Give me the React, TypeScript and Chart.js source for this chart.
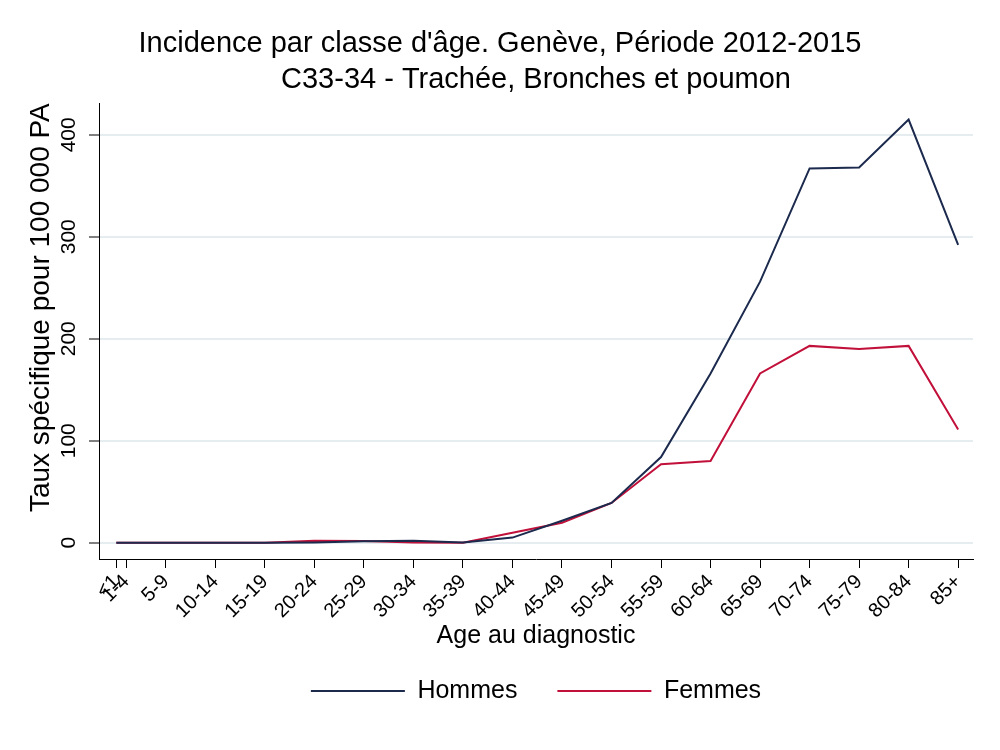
import React, { useEffect, useRef } from "react";
import { Chart, registerables } from "chart.js";

Chart.register(...registerables);

const FONT = "'Liberation Sans', Arial, sans-serif";

const TITLE = "Incidence par classe d'âge. Genève, Période 2012-2015";
const SUBTITLE = "C33-34 - Trachée, Bronches et poumon";
const X_TITLE = "Age au diagnostic";
const Y_TITLE = "Taux spécifique pour 100 000 PA";

// age class start values (position on the x axis) and their labels
const AGE_X = [0, 1, 5, 10, 15, 20, 25, 30, 35, 40, 45, 50, 55, 60, 65, 70, 75, 80, 85];
const AGE_LABELS = [
  "<1", "1-4", "5-9", "10-14", "15-19", "20-24", "25-29", "30-34", "35-39",
  "40-44", "45-49", "50-54", "55-59", "60-64", "65-69", "70-74", "75-79", "80-84", "85+",
];

const HOMMES = [0, 0, 0, 0, 0, 0.3, 1.5, 1.8, 0.3, 5, 21.5, 39, 84, 166, 256, 367, 368, 415, 292];
const FEMMES = [0, 0, 0, 0, 0, 1.8, 1.6, 0.3, 0, 9.8, 19.5, 39, 77, 80, 166, 193, 190, 193, 111];

const Y_TICKS = [0, 100, 200, 300, 400];

const SERIES = [
  { label: "Hommes", values: HOMMES, color: "#1c2a4e" },
  { label: "Femmes", values: FEMMES, color: "#c1103a" },
];

export default function App() {
  const ref = useRef<HTMLCanvasElement | null>(null);

  useEffect(() => {
    document.body.style.margin = "0";
    const canvas = ref.current;
    if (!canvas) return;
    Chart.defaults.font.family = FONT;
    Chart.defaults.color = "#000";

    const chart = new Chart(canvas, {
      type: "line",
      data: {
        datasets: SERIES.map((s) => ({
          label: s.label,
          data: AGE_X.map((x, i) => ({ x, y: s.values[i] })),
          borderColor: s.color,
          backgroundColor: s.color,
          borderWidth: 2,
          pointRadius: 0,
          tension: 0,
          fill: false,
        })),
      },
      options: {
        animation: false,
        responsive: false,
        devicePixelRatio: 1,
        layout: { padding: { left: 27, right: 27, top: 0, bottom: 36.5 } },
        plugins: {
          title: {
            display: true,
            text: TITLE,
            color: "#000",
            font: { size: 29, weight: "normal", family: FONT },
            padding: { top: 27, bottom: 0 },
          },
          subtitle: {
            display: true,
            text: SUBTITLE,
            fullSize: false,
            color: "#000",
            font: { size: 29, weight: "normal", family: FONT },
            padding: { top: 1, bottom: 5.6 },
          },
          legend: {
            display: true,
            position: "bottom",
            fullSize: false,
            labels: {
              usePointStyle: true,
              pointStyle: "line",
              pointStyleWidth: 94,
              color: "#000",
              font: { size: 25, family: FONT },
              padding: 40,
            },
          },
          tooltip: { enabled: false },
        },
        scales: {
          x: {
            type: "linear",
            min: -1.75,
            max: 86.5,
            afterBuildTicks: (s: any) => {
              s.ticks = AGE_X.map((v) => ({ value: v }));
            },
            afterFit: (s: any) => {
              s.height = 79.5;
            },
            ticks: {
              autoSkip: false,
              minRotation: 45,
              maxRotation: 45,
              padding: 2,
              color: "#000",
              font: { size: 20, family: FONT },
              callback: (v: any) => {
                const i = AGE_X.indexOf(Number(v));
                return i >= 0 ? AGE_LABELS[i] : "";
              },
            },
            grid: {
              drawOnChartArea: false,
              drawTicks: true,
              tickLength: 9,
              tickColor: "#000",
              tickWidth: 1,
            },
            border: { display: true, color: "#000", width: 1 },
            title: {
              display: true,
              text: X_TITLE,
              color: "#000",
              font: { size: 25, family: FONT, lineHeight: 0.2 },
              padding: 0,
            },
          },
          y: {
            type: "linear",
            min: -16,
            max: 431,
            afterBuildTicks: (s: any) => {
              s.ticks = Y_TICKS.map((v) => ({ value: v }));
            },
            afterFit: (s: any) => {
              s.width = 72;
            },
            ticks: {
              minRotation: 90,
              maxRotation: 90,
              crossAlign: "center",
              padding: 2,
              color: "#000",
              font: { size: 21, family: FONT },
            },
            grid: {
              color: "#e6edf1",
              lineWidth: 2,
              drawTicks: true,
              tickLength: 10,
              tickColor: "#000",
              tickWidth: 1,
            },
            border: { display: true, color: "#000", width: 1 },
            title: {
              display: true,
              text: Y_TITLE,
              align: "end",
              color: "#000",
              font: { size: 28, family: FONT, lineHeight: 0.2 },
              padding: { top: 11, bottom: 0 },
            },
          },
        },
      },
    });
    return () => chart.destroy();
  }, []);

  return (
    <div style={{ width: 1000, height: 750, background: "#fff" }}>
      <canvas ref={ref} width={1000} height={750} />
    </div>
  );
}
